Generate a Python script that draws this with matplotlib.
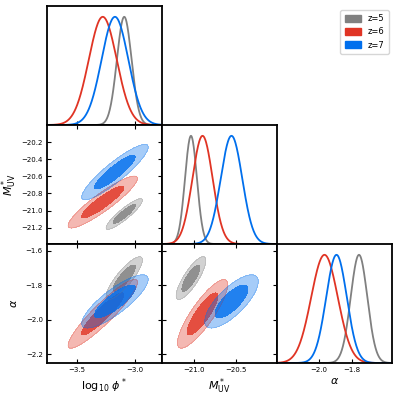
import numpy as np
import matplotlib.pyplot as plt
from matplotlib.patches import Patch

# posterior summaries (z=5, z=6, z=7)
labels = ["z=5", "z=6", "z=7"]
colors = ["gray", "#E03424", "#006FED"]

axis_labels = [r"$\log_{10}\,\phi^*$", r"$M^*_{\rm UV}$", r"$\alpha$"]

mean_logphi = [-3.095, -3.280, -3.175]
mean_muv = [-21.04, -20.90, -20.55]
mean_alpha = [-1.758, -1.965, -1.893]

sig_logphi = [0.063, 0.120, 0.115]
sig_muv = [0.072, 0.122, 0.130]
sig_alpha = [0.050, 0.080, 0.062]

# pairwise correlations
rho_logphi_muv = [0.90, 0.91, 0.90]
rho_logphi_alpha = [0.85, 0.92, 0.83]
rho_muv_alpha = [0.82, 0.85, 0.75]

limits = [(-3.76, -2.77), (-21.39, -20.0), (-2.25, -1.56)]
ticks = [[-3.5, -3.0], [-21.0, -20.5], [-2.0, -1.8]]
yticks = [None, [-21.2, -21.0, -20.8, -20.6, -20.4, -20.2], [-2.2, -2.0, -1.8, -1.6]]

means = [mean_logphi, mean_muv, mean_alpha]
sigs = [sig_logphi, sig_muv, sig_alpha]
rhos = {(1, 0): rho_logphi_muv, (2, 0): rho_logphi_alpha, (2, 1): rho_muv_alpha}

fig = plt.figure(figsize=(3.99, 3.99), dpi=100)
lefts = [47, 162, 277]
tops = [6, 125, 244]
w, h = 115, 119
axes = {}
for r in range(3):
    for c in range(r + 1):
        ax = fig.add_axes([lefts[c] / 399, 1 - (tops[r] + h) / 399, w / 399, h / 399])
        axes[(r, c)] = ax
        for s in ax.spines.values():
            s.set_linewidth(1.3)
        ax.tick_params(direction="in", labelsize=5, length=3, width=0.8, pad=3)

levels_chi2 = [2.30, 6.18]  # 68% / 95% for 2D gaussian

for (r, c), ax in axes.items():
    ax.set_xlim(limits[c])
    ax.set_xticks(ticks[c])
    if r == c:
        # 1D marginals
        x = np.linspace(limits[c][0], limits[c][1], 400)
        for i in range(3):
            y = np.exp(-0.5 * ((x - means[c][i]) / sigs[c][i]) ** 2)
            ax.plot(x, y, color=colors[i], lw=1.3)
        ax.set_ylim(0, 1.1)
        ax.set_yticks([])
        ax.tick_params(top=False)
    else:
        ax.set_ylim(limits[r])
        ax.set_yticks(yticks[r])
        ax.tick_params(top=True, right=True)
        x = np.linspace(limits[c][0], limits[c][1], 300)
        y = np.linspace(limits[r][0], limits[r][1], 300)
        X, Y = np.meshgrid(x, y)
        for i in [0, 1, 2]:
            sx, sy, rho = sigs[c][i], sigs[r][i], rhos[(r, c)][i]
            dx = (X - means[c][i]) / sx
            dy = (Y - means[r][i]) / sy
            chi2 = (dx ** 2 - 2 * rho * dx * dy + dy ** 2) / (1 - rho ** 2)
            ax.contourf(X, Y, chi2, levels=[0, levels_chi2[1]], colors=[colors[i]], alpha=0.35)
            ax.contourf(X, Y, chi2, levels=[0, levels_chi2[0]], colors=[colors[i]], alpha=0.8)
            ax.contour(X, Y, chi2, levels=[levels_chi2[1]], colors=[colors[i]], linewidths=0.4, alpha=0.4)
    if r < 2:
        ax.set_xticklabels([])
    else:
        ax.set_xlabel(axis_labels[c], fontsize=8, labelpad=2)
    if c > 0 or r == 0:
        if r != c:
            ax.set_yticklabels([])
    else:
        ax.set_ylabel(axis_labels[r], fontsize=8)
        ax.yaxis.set_label_coords(-0.24, 0.5)

handles = [Patch(facecolor=col, edgecolor=col) for col in colors]
fig.legend(handles, labels, loc="upper right", bbox_to_anchor=(0.985, 0.985),
           fontsize=6, frameon=True, handlelength=2.0, handleheight=0.9,
           borderpad=0.5, labelspacing=0.5, handletextpad=0.8, fancybox=True,
           edgecolor="#cccccc")

fig.savefig("out.png", dpi=100)
